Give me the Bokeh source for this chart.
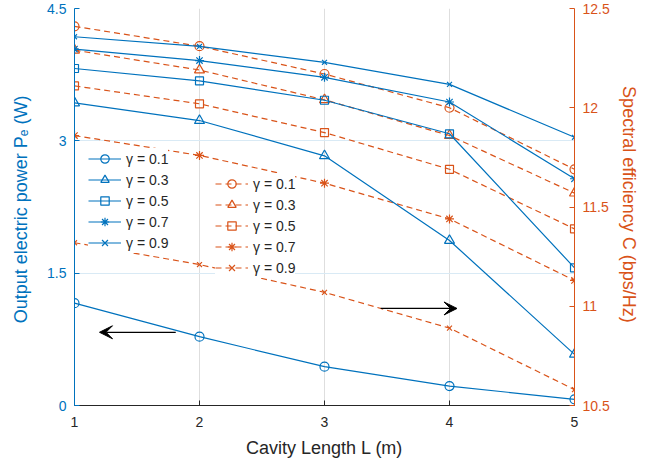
from bokeh.plotting import figure
from bokeh.models import (Range1d, LinearAxis, FixedTicker, Legend, LegendItem,
                          Arrow, VeeHead)
from bokeh.embed import file_html
from bokeh.resources import INLINE

# ---------------- data ----------------
cavity_length = [1, 2, 3, 4, 5]
gamma_labels = ["0.1", "0.3", "0.5", "0.7", "0.9"]

# Output electric power Pe (W), left axis
pe_g01 = [1.16, 0.78, 0.44, 0.22, 0.07]
pe_g03 = [3.43, 3.23, 2.83, 1.87, 0.58]
pe_g05 = [3.82, 3.68, 3.46, 3.08, 1.56]
pe_g07 = [4.04, 3.91, 3.72, 3.44, 2.57]
pe_g09 = [4.18, 4.07, 3.89, 3.64, 3.04]

# Spectral efficiency C (bps/Hz), right axis
se_g01 = [12.41, 12.31, 12.17, 12.00, 11.69]
se_g03 = [12.29, 12.19, 12.04, 11.86, 11.57]
se_g05 = [12.11, 12.02, 11.875, 11.69, 11.39]
se_g07 = [11.86, 11.76, 11.62, 11.44, 11.13]
se_g09 = [11.32, 11.21, 11.07, 10.89, 10.58]

left_ticks = [0, 1.5, 3, 4.5]
right_ticks = [10.5, 11, 11.5, 12, 12.5]
x_ticks = [1, 2, 3, 4, 5]

# annotation arrows (left-axis data coordinates): (x_start, x_end, y)
arrow_left = (1.81, 1.20, 0.83)
arrow_right = (3.45, 4.06, 1.10)

# ---------------- style ----------------
BLUE = "#0072BD"
ORANGE = "#D95319"
DARK = "#262626"
FONT = "Liberation Sans"

p = figure(width=655, height=463, output_backend="svg", toolbar_location=None,
           x_range=Range1d(1, 5), y_range=Range1d(0, 4.5),
           min_border_left=74, min_border_right=81, min_border_top=8,
           min_border_bottom=58)
p.extra_y_ranges = {"right": Range1d(10.5, 12.5)}
p.outline_line_color = None
p.background_fill_color = "white"
p.border_fill_color = "white"

# grid
p.xgrid.grid_line_color = "#dedede"
p.ygrid.grid_line_color = "#d9eaf5"
p.xgrid.ticker = FixedTicker(ticks=x_ticks)
p.ygrid.ticker = FixedTicker(ticks=left_ticks)

# bottom axis
xa = p.xaxis[0]
xa.ticker = FixedTicker(ticks=x_ticks)
xa.axis_label = "Cavity Length L (m)"
xa.axis_line_color = DARK
xa.major_tick_line_color = DARK
xa.major_label_text_color = DARK
xa.axis_label_text_color = DARK
xa.major_tick_in = 5
xa.major_tick_out = 0
xa.minor_tick_line_color = None
xa.major_label_text_font = FONT
xa.major_label_text_font_size = "14px"
xa.axis_label_text_font = FONT
xa.axis_label_text_font_size = "18px"
xa.axis_label_text_font_style = "normal"
xa.major_label_standoff = 11
xa.axis_label_standoff = 8

# left axis
ya = p.yaxis[0]
ya.ticker = FixedTicker(ticks=left_ticks)
ya.major_label_overrides = {0: "0", 1.5: "1.5", 3: "3", 4.5: "4.5"}
ya.axis_label = "Output electric power  P\u2091 (W)"
for prop, val in [("axis_line_color", BLUE), ("major_tick_line_color", BLUE),
                  ("major_label_text_color", BLUE), ("axis_label_text_color", BLUE)]:
    setattr(ya, prop, val)
ya.major_tick_in = 5
ya.major_tick_out = 0
ya.minor_tick_line_color = None
ya.major_label_text_font = FONT
ya.major_label_text_font_size = "14px"
ya.axis_label_text_font = FONT
ya.axis_label_text_font_size = "18px"
ya.axis_label_text_font_style = "normal"
ya.major_label_standoff = 8
ya.axis_label_standoff = 13

# right axis
ra = LinearAxis(y_range_name="right", ticker=FixedTicker(ticks=right_ticks))
ra.major_label_overrides = {10.5: "10.5", 11: "11", 11.5: "11.5", 12: "12", 12.5: "12.5"}
ra.axis_label = "Spectral efficiency  C (bps/Hz)"
for prop, val in [("axis_line_color", ORANGE), ("major_tick_line_color", ORANGE),
                  ("major_label_text_color", ORANGE), ("axis_label_text_color", ORANGE)]:
    setattr(ra, prop, val)
ra.major_tick_in = 5
ra.major_tick_out = 0
ra.minor_tick_line_color = None
ra.major_label_text_font = FONT
ra.major_label_text_font_size = "14px"
ra.axis_label_text_font = FONT
ra.axis_label_text_font_size = "18px"
ra.axis_label_text_font_style = "normal"
ra.major_label_standoff = 8
ra.axis_label_standoff = 6
p.add_layout(ra, "right")

markers = ["circle", "triangle", "square", "asterisk", "x"]
sizes = [9, 10, 8, 9, 7]
pe_series = [pe_g01, pe_g03, pe_g05, pe_g07, pe_g09]
se_series = [se_g01, se_g03, se_g05, se_g07, se_g09]

blue_items = []
orange_items = []
for g, mk, sz, pe, se in zip(gamma_labels, markers, sizes, pe_series, se_series):
    rl = p.line(cavity_length, se, y_range_name="right", line_color=ORANGE,
                line_width=1.2, line_dash="6 4")
    rs = p.scatter(cavity_length, se, y_range_name="right", marker=mk, size=sz,
                   line_color=ORANGE, fill_color=None, line_width=1.2)
    orange_items.append(LegendItem(label="\u03b3 = " + g, renderers=[rl, rs]))

for g, mk, sz, pe, se in zip(gamma_labels, markers, sizes, pe_series, se_series):
    bl = p.line(cavity_length, pe, line_color=BLUE, line_width=1.2)
    bs = p.scatter(cavity_length, pe, marker=mk, size=sz, line_color=BLUE,
                   fill_color=None, line_width=1.2)
    blue_items.append(LegendItem(label="\u03b3 = " + g, renderers=[bl, bs]))

def style_legend(lg):
    lg.border_line_color = None
    lg.background_fill_color = "white"
    lg.background_fill_alpha = 1.0
    lg.padding = 0
    lg.margin = 0
    lg.spacing = 0
    lg.glyph_height = 21
    lg.label_height = 21
    lg.glyph_width = 33
    lg.label_standoff = 5
    lg.label_text_font = FONT
    lg.label_text_font_size = "14px"
    lg.label_text_color = DARK

leg_blue = Legend(items=blue_items, location=(14, 152))
leg_orange = Legend(items=orange_items, location=(141, 127))
style_legend(leg_blue)
style_legend(leg_orange)
p.add_layout(leg_orange, "center")
p.add_layout(leg_blue, "center")

for (xs, xe, yy) in [arrow_left, arrow_right]:
    p.add_layout(Arrow(x_start=xs, y_start=yy, x_end=xe, y_end=yy,
                       line_color="black", line_width=1.2,
                       end=VeeHead(size=13, fill_color="black", line_color="black")))

open("out.html", "w").write(file_html(p, INLINE))
